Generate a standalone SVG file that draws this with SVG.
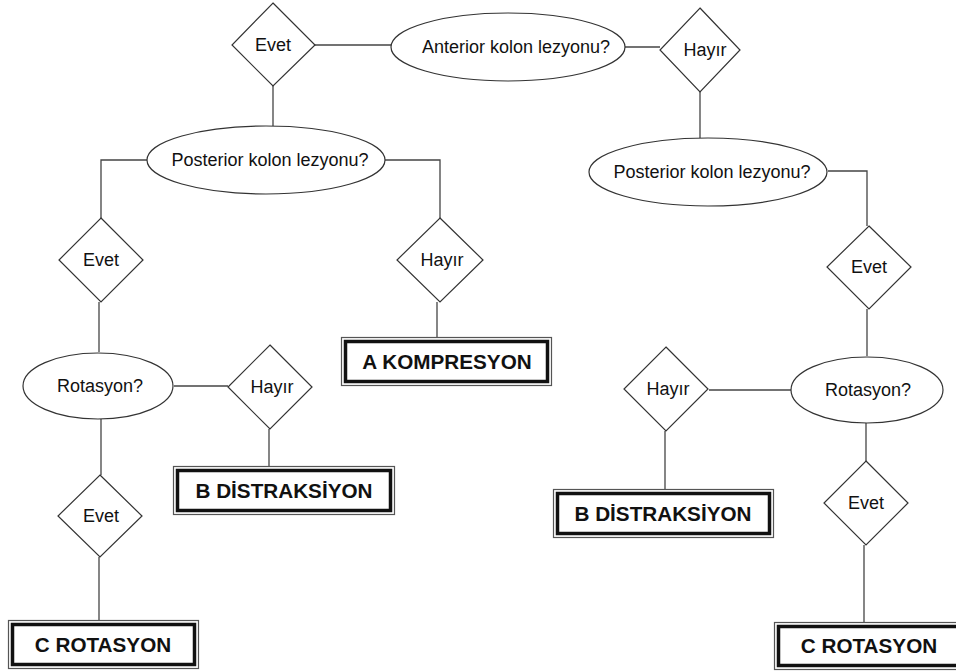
<svg xmlns="http://www.w3.org/2000/svg" width="956" height="671" viewBox="0 0 956 671">
<style>
.s{fill:#fff;stroke:#333;stroke-width:1.2}
.c{fill:none;stroke:#444;stroke-width:1.3}
.t{font-family:"Liberation Sans",Arial,sans-serif;font-size:18px;fill:#111;text-anchor:middle}
.b{font-family:"Liberation Sans",Arial,sans-serif;font-size:20.7px;font-weight:bold;fill:#111;text-anchor:middle}
.bo{fill:#fff;stroke:#555;stroke-width:1.2}
.bi{fill:none;stroke:#111;stroke-width:3.5}
</style>
<rect width="956" height="671" fill="#fff"/>
<g id="connectors">
<path class="c" d="M315,45 H392"/>
<path class="c" d="M625,47 H660"/>
<path class="c" d="M273,86 V126"/>
<path class="c" d="M700,92 V138"/>
<path class="c" d="M147,160 H101 V218"/>
<path class="c" d="M385,160 H440 V218"/>
<path class="c" d="M437,302 V337"/>
<path class="c" d="M99,302 V352"/>
<path class="c" d="M174,386 H228"/>
<path class="c" d="M269,429 V466"/>
<path class="c" d="M101,419 V475"/>
<path class="c" d="M99,557 V620"/>
<path class="c" d="M828,171 H867 V226"/>
<path class="c" d="M867,309 V356"/>
<path class="c" d="M791,390 H709"/>
<path class="c" d="M665,431 V489"/>
<path class="c" d="M866,423 V461"/>
<path class="c" d="M864,545 V622"/>
</g>
<g id="anterior">
<ellipse class="s" cx="508" cy="47" rx="117" ry="34"/>
<text class="t" x="516" y="53">Anterior kolon lezyonu?</text>
</g>
<g id="evet-top">
<polygon class="s" points="273,3 315,45 273,86 232,45"/>
<text class="t" x="273" y="51">Evet</text>
</g>
<g id="hayir-top">
<polygon class="s" points="700,8 740,50 700,92 660,50"/>
<text class="t" x="705" y="56">Hayır</text>
</g>
<g id="posterior-left">
<ellipse class="s" cx="266" cy="160" rx="119" ry="34"/>
<text class="t" x="270" y="166">Posterior kolon lezyonu?</text>
</g>
<g id="posterior-right">
<ellipse class="s" cx="708" cy="172" rx="119" ry="34"/>
<text class="t" x="712" y="178">Posterior kolon lezyonu?</text>
</g>
<g id="evet-l2">
<polygon class="s" points="101,218 143,260 101,302 59,260"/>
<text class="t" x="101" y="266">Evet</text>
</g>
<g id="hayir-l2">
<polygon class="s" points="440,218 483,260 440,302 397,260"/>
<text class="t" x="442" y="266">Hayır</text>
</g>
<g id="a-kompresyon">
<rect class="bo" x="341.5" y="337.5" width="210" height="48"/>
<rect class="bi" x="345.5" y="341.5" width="202" height="40"/>
<text class="b" x="447" y="369">A KOMPRESYON</text>
</g>
<g id="rotasyon-left">
<ellipse class="s" cx="98" cy="386" rx="75" ry="33"/>
<text class="t" x="100" y="392">Rotasyon?</text>
</g>
<g id="hayir-l3">
<polygon class="s" points="270,345 312,387 270,429 228,387"/>
<text class="t" x="272" y="393">Hayır</text>
</g>
<g id="b-distraksiyon-left">
<rect class="bo" x="173.5" y="466.5" width="221" height="48"/>
<rect class="bi" x="177.5" y="470.5" width="213" height="40"/>
<text class="b" x="284" y="498">B DİSTRAKSİYON</text>
</g>
<g id="evet-l3">
<polygon class="s" points="100,475 142,516 100,557 58,516"/>
<text class="t" x="101" y="522">Evet</text>
</g>
<g id="c-rotasyon-left">
<rect class="bo" x="8.5" y="620.5" width="190" height="48"/>
<rect class="bi" x="12.5" y="624.5" width="182" height="40"/>
<text class="b" x="103" y="652">C ROTASYON</text>
</g>
<g id="evet-r2">
<polygon class="s" points="869,226 911,267 869,309 827,267"/>
<text class="t" x="869" y="273">Evet</text>
</g>
<g id="rotasyon-right">
<ellipse class="s" cx="867" cy="390" rx="76" ry="33"/>
<text class="t" x="868" y="396">Rotasyon?</text>
</g>
<g id="hayir-r3">
<polygon class="s" points="666,347 708,389 666,431 624,389"/>
<text class="t" x="668" y="395">Hayır</text>
</g>
<g id="b-distraksiyon-right">
<rect class="bo" x="553.5" y="489.5" width="220" height="48"/>
<rect class="bi" x="557.5" y="493.5" width="212" height="40"/>
<text class="b" x="663" y="521">B DİSTRAKSİYON</text>
</g>
<g id="evet-r3">
<polygon class="s" points="866,461 908,503 866,545 824,503"/>
<text class="t" x="866" y="509">Evet</text>
</g>
<g id="c-rotasyon-right">
<rect class="bo" x="774.5" y="622.5" width="190" height="47"/>
<rect class="bi" x="778.5" y="626.5" width="182" height="39"/>
<text class="b" x="869" y="653">C ROTASYON</text>
</g>
</svg>
